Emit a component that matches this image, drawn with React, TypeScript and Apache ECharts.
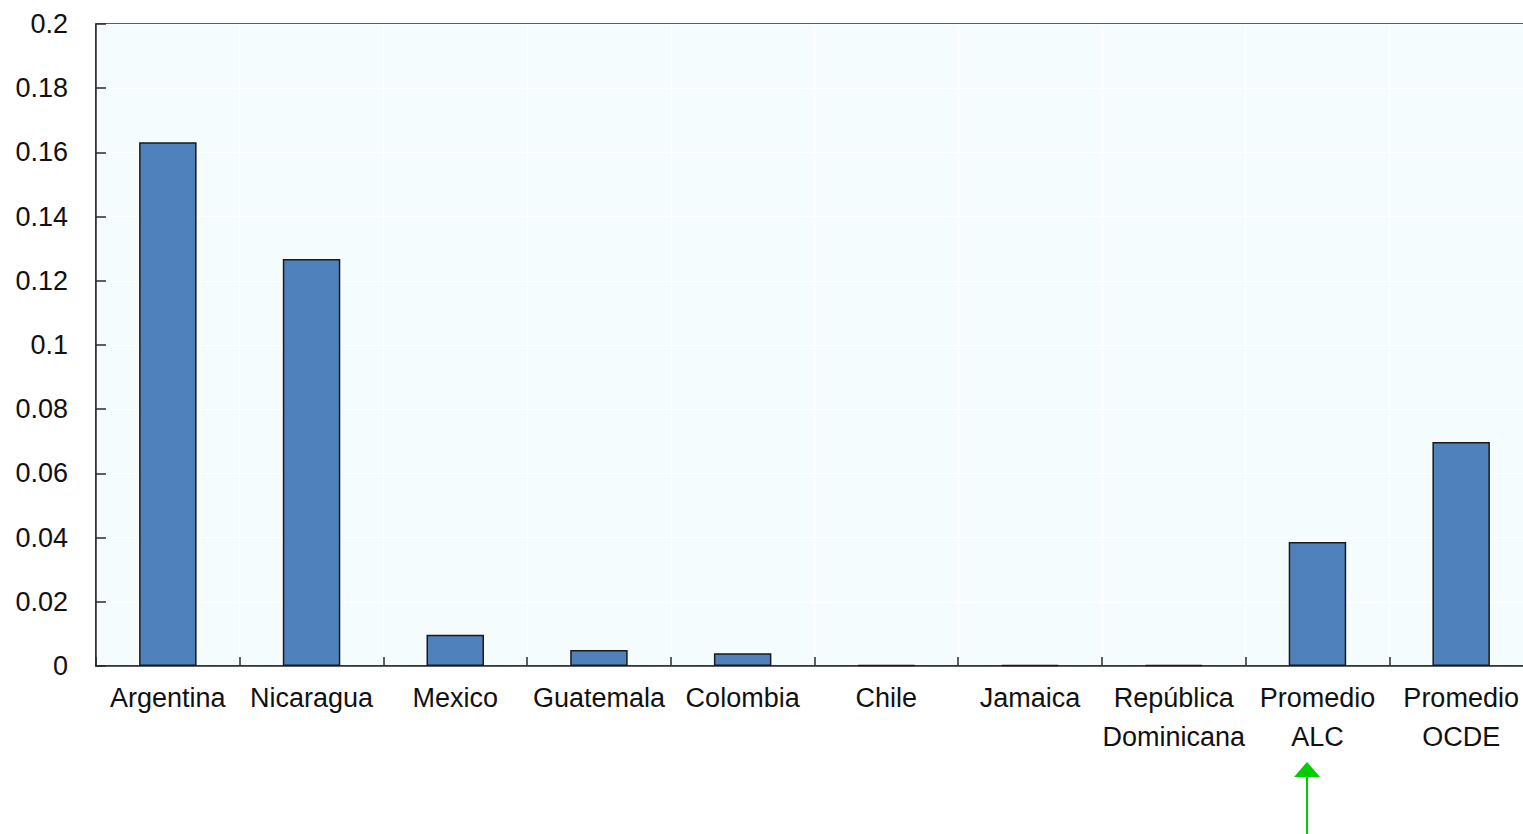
import React, { useEffect, useRef } from "react";
import * as echarts from "echarts";

const categories = [
  "Argentina",
  "Nicaragua",
  "Mexico",
  "Guatemala",
  "Colombia",
  "Chile",
  "Jamaica",
  "República\nDominicana",
  "Promedio\nALC",
  "Promedio\nOCDE",
];
const values = [0.1632, 0.1268, 0.0097, 0.005, 0.004, 0.0003, 0.0003, 0.0003, 0.0386, 0.0698];
const yTicks = [0, 0.02, 0.04, 0.06, 0.08, 0.1, 0.12, 0.14, 0.16, 0.18, 0.2];

export default function App() {
  const ref = useRef<HTMLDivElement>(null);
  useEffect(() => {
    if (!ref.current) return;
    const chart = echarts.init(ref.current, null, { renderer: "svg" });
    const font = "'Liberation Sans', Arial, sans-serif";
    chart.setOption({
      animation: false,
      backgroundColor: "#ffffff",
      grid: {
        left: 96,
        top: 24,
        bottom: 168,
        right: 7,
        show: true,
        backgroundColor: "#f4fcfd",
        borderColor: "#2a2a2a",
        borderWidth: 1.5,
      },
      xAxis: {
        type: "category",
        data: categories,
        boundaryGap: true,
        axisLine: { show: true, lineStyle: { color: "#2a2a2a", width: 1.5 } },
        axisTick: { show: true, inside: true, length: 9, lineStyle: { color: "#2a2a2a", width: 1.5 } },
        axisLabel: {
          interval: 0,
          color: "#111",
          fontSize: 27,
          fontFamily: font,
          lineHeight: 39,
          margin: 12,
        },
        splitLine: { show: true, lineStyle: { color: "#ffffff", width: 1 } },
      },
      yAxis: {
        type: "value",
        min: yTicks[0],
        max: yTicks[yTicks.length - 1],
        interval: 0.02,
        axisLine: { show: true, lineStyle: { color: "#2a2a2a", width: 1.5 } },
        axisTick: { show: true, inside: true, length: 10, lineStyle: { color: "#2a2a2a", width: 1.5 } },
        axisLabel: {
          color: "#111",
          fontSize: 27,
          fontFamily: font,
          margin: 28,
          formatter: (v: number) => String(+v.toFixed(2)),
        },
        splitLine: { show: true, lineStyle: { color: "#ffffff", width: 1 } },
      },
      series: [
        {
          type: "bar",
          data: values,
          barWidth: "40%",
          itemStyle: { color: "#4f81bd", borderColor: "#1a1a1a", borderWidth: 1.5 },
        },
      ],
      graphic: [
        {
          type: "line",
          shape: { x1: 1307, y1: 776, x2: 1307, y2: 834 },
          style: { stroke: "#00cc00", lineWidth: 2 },
        },
        {
          type: "polygon",
          shape: { points: [[1307, 762], [1294, 777], [1320, 777]] },
          style: { fill: "#00cc00" },
        },
      ],
    });
    return () => chart.dispose();
  }, []);
  return (
    <div
      style={{
        position: "fixed",
        left: 0,
        top: 0,
        width: 1523,
        height: 834,
        overflow: "hidden",
        background: "#fff",
      }}
    >
      <div ref={ref} style={{ width: 1540, height: 834 }} />
    </div>
  );
}
